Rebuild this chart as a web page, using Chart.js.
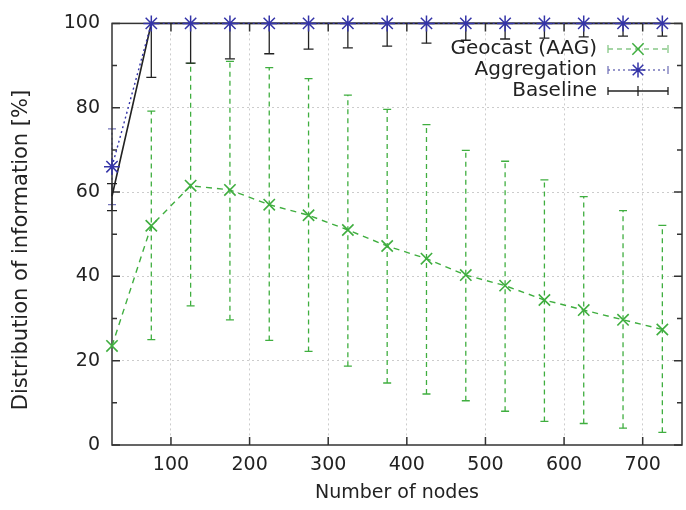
<!DOCTYPE html>
<html><head><meta charset="utf-8">
<title>Distribution of information</title>
<script src="https://cdn.jsdelivr.net/npm/chart.js@4.4.0/dist/chart.umd.min.js"></script>
<style>body{margin:0;background:#fff}</style>
</head>
<body>
<div style="width:686px;height:510px"><canvas id="chart" width="686" height="510"></canvas></div>
<script>
// values
var nodes = [25, 75, 125, 175, 225, 275, 325, 375, 425, 475, 525, 575, 625, 675, 725];
var geocast     = [23.5, 52, 61.5, 60.5, 57, 54.5, 51, 47.2, 44.2, 40.3, 37.8, 34.4, 32, 29.7, 27.4];
var geocastLow  = [23.5, 25, 33, 29.7, 24.8, 22.2, 18.7, 14.7, 12.1, 10.5, 8, 5.6, 5.1, 4, 3];
var geocastHigh = [23.5, 79.2, 90.5, 91, 89.5, 86.9, 83, 79.6, 76, 69.9, 67.3, 62.9, 58.9, 55.6, 52.1];
var aggregation     = [66, 100, 100, 100, 100, 100, 100, 100, 100, 100, 100, 100, 100, 100, 100];
var aggregationLow  = [57, 100, 100, 100, 100, 100, 100, 100, 100, 100, 100, 100, 100, 100, 100];
var aggregationHigh = [75, 100, 100, 100, 100, 100, 100, 100, 100, 100, 100, 100, 100, 100, 100];
var baseline     = [59, 100, 100, 100, 100, 100, 100, 100, 100, 100, 100, 100, 100, 100, 100];
var baselineLow  = [55.6, 87.2, 90.6, 91.6, 92.8, 93.9, 94.2, 94.6, 95.3, 96, 96.3, 96.5, 96.8, 97, 97];
var baselineHigh = [62, 100, 100, 100, 100, 100, 100, 100, 100, 100, 100, 100, 100, 100, 100];
var xTicks = [100, 200, 300, 400, 500, 600, 700];
var yTicks = [0, 20, 40, 60, 80, 100];
var yMinorTicks = [10, 30, 50, 70, 90];
var seriesNames = ['Geocast (AAG)', 'Aggregation', 'Baseline'];

var GREEN = '#3fae3f', BLUE = '#3434a8', BLACK = '#222';
var FONT = '"DejaVu Sans", sans-serif';

function pts(ys) {
  return nodes.map(function (x, i) { return {x: x, y: ys[i]}; });
}

// error bars, drawn through the chart's scales
var errorBars = {
  id: 'errorBars',
  beforeDatasetsDraw: function (chart) {
    var ctx = chart.ctx, xs = chart.scales.x, ys = chart.scales.y, a = chart.chartArea;
    var sets = [
      {lo: geocastLow, hi: geocastHigh, color: GREEN, dash: [5, 4], cap: 4},
      {lo: aggregationLow, hi: aggregationHigh, color: '#7777bb', dash: [2, 3], cap: 4},
      {lo: baselineLow, hi: baselineHigh, color: BLACK, dash: [], cap: 5}
    ];
    ctx.save();
    ctx.beginPath();
    ctx.rect(a.left - 10, a.top, a.right - a.left + 20, a.bottom - a.top);
    ctx.clip();
    sets.forEach(function (s) {
      ctx.strokeStyle = s.color;
      ctx.lineWidth = 1.3;
      nodes.forEach(function (n, i) {
        if (s.hi[i] - s.lo[i] < 0.1) return;
        var x = xs.getPixelForValue(n);
        var y1 = ys.getPixelForValue(s.lo[i]), y2 = ys.getPixelForValue(s.hi[i]);
        ctx.setLineDash(s.dash);
        ctx.beginPath(); ctx.moveTo(x, y1); ctx.lineTo(x, y2); ctx.stroke();
        ctx.setLineDash([]);
        ctx.beginPath();
        ctx.moveTo(x - s.cap, y1); ctx.lineTo(x + s.cap, y1);
        if (s.hi[i] < 100) { ctx.moveTo(x - s.cap, y2); ctx.lineTo(x + s.cap, y2); }
        ctx.stroke();
      });
    });
    ctx.restore();
  }
};

// gnuplot-style frame with inward ticks
var frame = {
  id: 'frame',
  beforeDatasetsDraw: function (chart) {
    var ctx = chart.ctx, xs = chart.scales.x, ys = chart.scales.y, a = chart.chartArea;
    ctx.save();
    ctx.strokeStyle = '#333';
    ctx.lineWidth = 1.5;
    ctx.strokeRect(a.left, a.top, a.right - a.left, a.bottom - a.top);
    ctx.beginPath();
    xTicks.forEach(function (v) {
      var x = xs.getPixelForValue(v);
      ctx.moveTo(x, a.bottom); ctx.lineTo(x, a.bottom - 8);
      ctx.moveTo(x, a.top); ctx.lineTo(x, a.top + 8);
    });
    yTicks.forEach(function (v) {
      var y = ys.getPixelForValue(v);
      ctx.moveTo(a.left, y); ctx.lineTo(a.left + 8, y);
      ctx.moveTo(a.right, y); ctx.lineTo(a.right - 8, y);
    });
    yMinorTicks.forEach(function (v) {
      var y = ys.getPixelForValue(v);
      ctx.moveTo(a.left, y); ctx.lineTo(a.left + 5, y);
      ctx.moveTo(a.right, y); ctx.lineTo(a.right - 5, y);
    });
    ctx.stroke();
    ctx.restore();
  }
};

// key in the top right corner, text first then sample
var key = {
  id: 'key',
  afterDraw: function (chart) {
    var ctx = chart.ctx;
    var rows = [49, 70, 91];
    var styles = [
      {color: GREEN, line: '#88c888', dash: [5, 4], point: 'crossRot', r: 8},
      {color: BLUE, line: '#7777bb', dash: [2, 3], point: 'star', r: 7.5},
      {color: BLACK, line: BLACK, dash: [], point: null, r: 0}
    ];
    ctx.save();
    ctx.font = '20px ' + FONT;
    ctx.textAlign = 'right';
    ctx.textBaseline = 'middle';
    rows.forEach(function (y, i) {
      var s = styles[i];
      ctx.fillStyle = '#222';
      ctx.fillText(seriesNames[i], 597, y);
      ctx.strokeStyle = s.line;
      ctx.lineWidth = 1.3;
      ctx.setLineDash(s.dash);
      ctx.beginPath(); ctx.moveTo(608, y); ctx.lineTo(668, y); ctx.stroke();
      ctx.setLineDash([]);
      ctx.beginPath();
      ctx.moveTo(608, y - 4); ctx.lineTo(608, y + 4);
      ctx.moveTo(668, y - 4); ctx.lineTo(668, y + 4);
      if (!s.point) { ctx.moveTo(638, y - 5); ctx.lineTo(638, y + 5); }
      ctx.stroke();
      if (s.point) {
        ctx.strokeStyle = s.color;
        ctx.lineWidth = 1.5;
        Chart.helpers.drawPoint(ctx, {pointStyle: s.point, radius: s.r, borderWidth: 1.5, rotation: 0}, 638, y);
      }
    });
    // rotated y title
    ctx.font = '21px ' + FONT;
    ctx.textAlign = 'center';
    ctx.fillStyle = '#222';
    ctx.translate(22, 250);
    ctx.rotate(-Math.PI / 2);
    ctx.fillText('Distribution of information [%]', 0, 0);
    ctx.restore();
  }
};

new Chart(document.getElementById('chart'), {
  type: 'line',
  data: {
    datasets: [
      {label: seriesNames[1], data: pts(aggregation), order: 0, borderColor: BLUE, borderDash: [2, 3],
       borderWidth: 1.4, pointStyle: 'star', pointRadius: 8, pointBorderWidth: 1.5,
       pointBorderColor: BLUE, clip: false},
      {label: seriesNames[2], data: pts(baseline), order: 1, borderColor: BLACK, borderWidth: 1.6,
       pointRadius: 0, clip: false},
      {label: seriesNames[0], data: pts(geocast), order: 2, borderColor: GREEN, borderDash: [6, 5],
       borderWidth: 1.4, pointStyle: 'crossRot', pointRadius: 8, pointBorderWidth: 1.6,
       pointBorderColor: GREEN, clip: false}
    ]
  },
  options: {
    responsive: false,
    animation: false,
    layout: {autoPadding: false, padding: {top: 17, right: 4, left: 0, bottom: 0}},
    plugins: {legend: {display: false}, tooltip: {enabled: false}},
    scales: {
      x: {
        type: 'linear', min: 25, max: 750,
        afterBuildTicks: function (s) { s.ticks = xTicks.map(function (v) { return {value: v}; }); },
        afterFit: function (s) { s.height = 65; s.paddingLeft = 0; s.paddingRight = 0; },
        ticks: {padding: 9, color: '#222', font: {family: FONT, size: 19}, maxRotation: 0},
        grid: {drawTicks: false, color: function (c) { return c.tick && c.tick.value > 25 && c.tick.value < 750 ? '#cccccc' : 'rgba(0,0,0,0)'; }, lineWidth: 1},
        border: {display: false, dash: [2, 3]},
        title: {display: true, text: 'Number of nodes', color: '#222', font: {family: FONT, size: 19}, padding: {top: 2, bottom: 6}}
      },
      y: {
        min: 0, max: 100,
        afterBuildTicks: function (s) { s.ticks = yTicks.map(function (v) { return {value: v}; }); },
        afterFit: function (s) { s.width = 112; },
        ticks: {padding: 12, color: '#222', font: {family: FONT, size: 19}},
        grid: {drawTicks: false, color: function (c) { return c.tick && c.tick.value > 0 && c.tick.value < 100 ? '#cccccc' : 'rgba(0,0,0,0)'; }, lineWidth: 1},
        border: {display: false, dash: [2, 3]}
      }
    }
  },
  plugins: [errorBars, frame, key]
});
</script>
</body></html>
